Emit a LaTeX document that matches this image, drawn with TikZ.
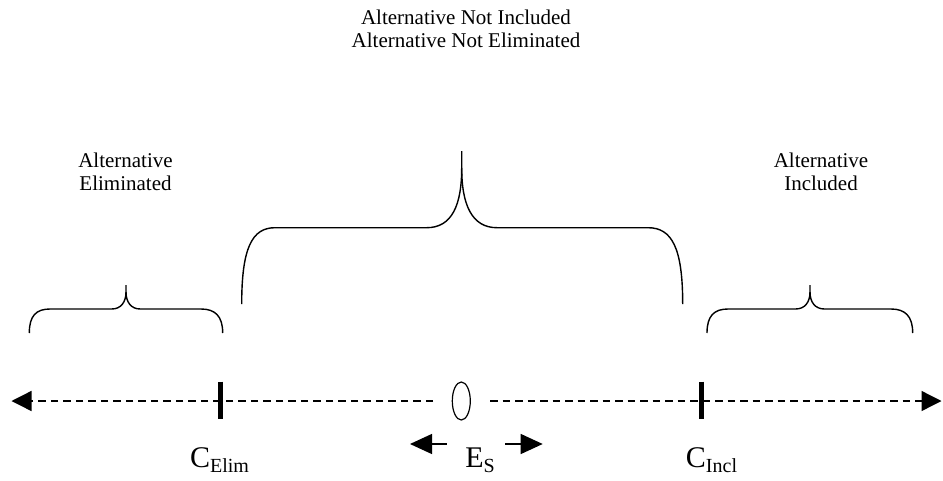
\documentclass[tikz,border=0pt]{standalone}
\usepackage{fontspec}
\setmainfont{Liberation Serif}
\usetikzlibrary{arrows.meta,shapes.geometric}
\tikzset{
  bracepath/.style={line width=1.4pt, line join=round},
  axisline/.style={line width=1.3pt, dash pattern=on 7.5pt off 5pt, -{Triangle[length=20pt,width=20pt]}},
  tickmark/.style={line width=5pt},
  shiftarrow/.style={line width=1.3pt, -{Triangle[length=22pt,width=20pt]}},
  labeltext/.style={font=\fontsize{21}{23.3}\selectfont, align=center, inner sep=0pt, anchor=north},
  bigtext/.style={font=\fontsize{30}{32}\selectfont, inner sep=0pt, anchor=base},
}
\newcommand\subtx[1]{\raisebox{-4.5pt}{\fontsize{20}{20}\selectfont #1}}
\begin{document}
\begin{tikzpicture}[x=1pt,y=-1pt]
\useasboundingbox (0,0) rectangle (943,480);

% labels
\node[labeltext] (top) at (466,9.6) {Alternative Not Included\\Alternative Not Eliminated};
\node[labeltext] (elim) at (125.5,152.8) {Alternative\\Eliminated};
\node[labeltext] (incl) at (821,152.8) {Alternative\\Included};

% big brace
\draw[bracepath] (241.7,304) .. controls (241.7,248) and (252,227.7) .. (275,227.7)
  -- (426.7,227.7) .. controls (452,227.7) and (461.7,205) .. (461.7,168) -- (461.7,151);
\draw[bracepath] (461.7,168) .. controls (461.7,205) and (472,227.7) .. (497,227.7)
  -- (648,227.7) .. controls (672,227.7) and (682.7,248) .. (682.7,304);

% left small brace
\draw[bracepath] (29.3,333) .. controls (29.3,316) and (36,309) .. (50,309)
  -- (111.7,309) .. controls (121,309) and (126,302) .. (126,292) -- (126,285);
\draw[bracepath] (126,292) .. controls (126,302) and (131,309) .. (140.3,309)
  -- (201,309) .. controls (215,309) and (222.7,316) .. (222.7,333);

% right small brace
\draw[bracepath] (707,333) .. controls (707,316) and (714,309) .. (728,309)
  -- (795.5,309) .. controls (805,309) and (810,302) .. (810,292) -- (810,285);
\draw[bracepath] (810,292) .. controls (810,302) and (815,309) .. (824.5,309)
  -- (891,309) .. controls (905,309) and (912.7,316) .. (912.7,333);

% axis
\coordinate (gl) at (433,401);
\coordinate (gr) at (490,401);
\coordinate (L) at (11.5,401);
\coordinate (R) at (941.5,401);
\node[draw, ellipse, line width=1.2pt, minimum width=18pt, minimum height=38pt, inner sep=0pt] (es) at (461.3,401) {};
\draw[axisline] (gl) -- (L);
\draw[axisline] (gr) -- (R);

% ticks
\coordinate (t1a) at (220,381.7); \coordinate (t1b) at (220,419);
\coordinate (t2a) at (701.7,381.7); \coordinate (t2b) at (701.7,419);
\draw[tickmark] (t1a) -- (t1b);
\draw[tickmark] (t2a) -- (t2b);

% shift arrows
\coordinate (a1s) at (446.7,444); \coordinate (a1e) at (410,444);
\coordinate (a2s) at (505,444); \coordinate (a2e) at (542.7,444);
\draw[shiftarrow] (a1s) -- (a1e);
\draw[shiftarrow] (a2s) -- (a2e);

% axis labels
\node[bigtext] (celim) at (219.5,467.7) {C\subtx{Elim}};
\node[bigtext] (esl) at (480,467.7) {E\subtx{S}};
\node[bigtext] (cincl) at (711.5,467.7) {C\subtx{Incl}};
\end{tikzpicture}
\end{document}
